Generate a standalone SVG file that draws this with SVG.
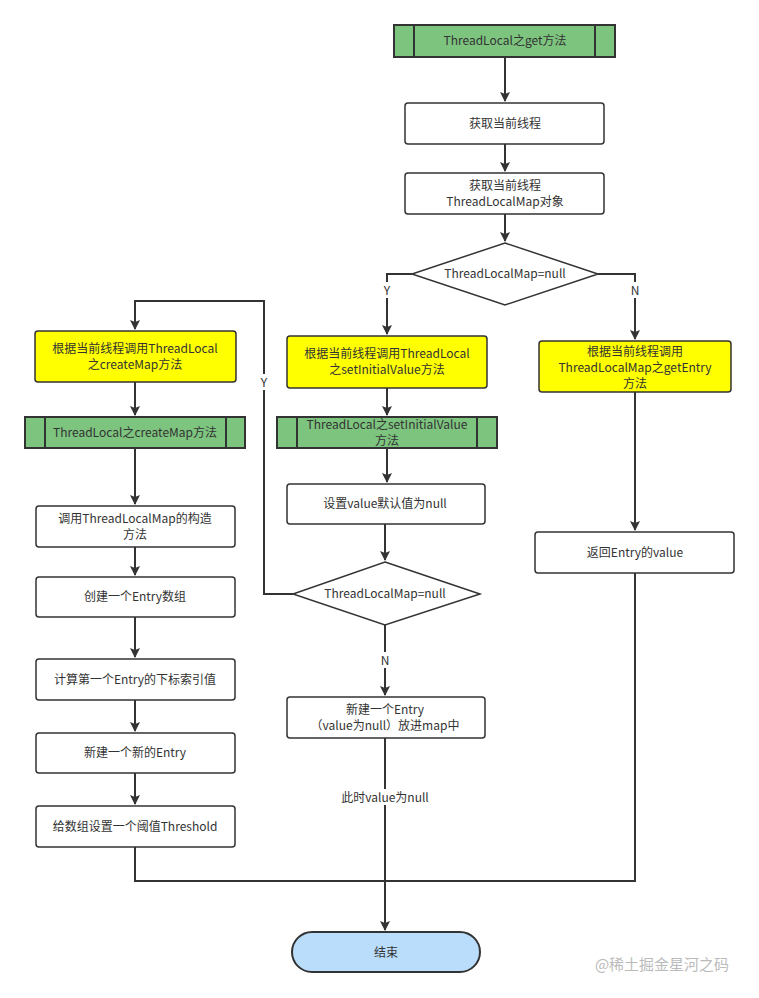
<svg xmlns="http://www.w3.org/2000/svg" width="759" height="998" viewBox="0 0 759 998">
<style>
text{font-family:"Noto Sans CJK SC","Liberation Sans",sans-serif;font-size:12px;fill:#333;text-anchor:middle}
.b{fill:#fff;stroke:#333;stroke-width:1.5}
.y{fill:#ffff00;stroke:#333;stroke-width:1.5}
.g{fill:#7dc47f;stroke:#333;stroke-width:2}
.l{fill:none;stroke:#333;stroke-width:2}
.lb{fill:#fff}
</style>
<defs><marker id="a" viewBox="0 0 10 10" refX="9" refY="5" markerWidth="5" markerHeight="5" orient="auto"><path d="M0,0L10,5L0,10L2,5z" fill="#333"/></marker></defs>
<rect width="759" height="998" fill="#fff"/>
<g id="connectors">
<path class="l" d="M505,57V101" marker-end="url(#a)"/>
<path class="l" d="M505,144V171" marker-end="url(#a)"/>
<path class="l" d="M505,214V241" marker-end="url(#a)"/>
<path class="l" d="M412,274H387V334" marker-end="url(#a)"/>
<path class="l" d="M598,274H635V339" marker-end="url(#a)"/>
<path class="l" d="M387,388V415" marker-end="url(#a)"/>
<path class="l" d="M387,448V482" marker-end="url(#a)"/>
<path class="l" d="M385,524V560" marker-end="url(#a)"/>
<path class="l" d="M293,594H264V301H135V329" marker-end="url(#a)"/>
<path class="l" d="M385,625V695" marker-end="url(#a)"/>
<path class="l" d="M385,738V930" marker-end="url(#a)"/>
<path class="l" d="M135,382V415" marker-end="url(#a)"/>
<path class="l" d="M135,448V504" marker-end="url(#a)"/>
<path class="l" d="M135,547V575" marker-end="url(#a)"/>
<path class="l" d="M135,617V657" marker-end="url(#a)"/>
<path class="l" d="M135,700V731" marker-end="url(#a)"/>
<path class="l" d="M135,773V804" marker-end="url(#a)"/>
<path class="l" d="M635,392V530" marker-end="url(#a)"/>
<path class="l" d="M135,847V881H635V573"/>
<rect class="lb" x="381" y="282" width="12" height="16"/><text x="387" y="295">Y</text>
<rect class="lb" x="629" y="282" width="12" height="16"/><text x="635" y="295">N</text>
<rect class="lb" x="258" y="374" width="12" height="16"/><text x="264" y="387">Y</text>
<rect class="lb" x="379" y="652" width="12" height="16"/><text x="385" y="665">N</text>
<rect class="lb" x="338" y="789" width="94" height="16"/><text x="385" y="802">此时value为null</text>
</g>
<g id="n1"><rect class="g" x="394" y="25" width="221" height="32"/><path class="l" d="M414,25V57M595,25V57"/><text x="505" y="45">ThreadLocal之get方法</text></g>
<g id="n2"><rect class="b" x="405" y="103" width="199" height="41" rx="3"/><text x="505" y="128">获取当前线程</text></g>
<g id="n3"><rect class="b" x="405" y="173" width="199" height="41" rx="3"/><text x="505" y="190">获取当前线程</text><text x="505" y="206">ThreadLocalMap对象</text></g>
<g id="n4"><path class="b" d="M505,243L598,274L505,305L412,274Z"/><text x="505" y="278">ThreadLocalMap=null</text></g>
<g id="n5"><rect class="y" x="287" y="336" width="200" height="52" rx="3"/><text x="387" y="358">根据当前线程调用ThreadLocal</text><text x="387" y="374">之setInitialValue方法</text></g>
<g id="n6"><rect class="g" x="277" y="417" width="220" height="31"/><path class="l" d="M297,417V448M477,417V448"/><text x="387" y="429">ThreadLocal之setInitialValue</text><text x="387" y="445">方法</text></g>
<g id="n7"><rect class="b" x="287" y="484" width="198" height="40" rx="3"/><text x="385" y="508">设置value默认值为null</text></g>
<g id="n8"><path class="b" d="M385,562L480,594L385,625L293,594Z"/><text x="385" y="598">ThreadLocalMap=null</text></g>
<g id="n9"><rect class="b" x="287" y="697" width="198" height="41" rx="3"/><text x="385" y="714">新建一个Entry</text><text x="385" y="730">（value为null）放进map中</text></g>
<g id="n10"><rect class="y" x="35" y="331" width="201" height="51" rx="3"/><text x="135" y="353">根据当前线程调用ThreadLocal</text><text x="135" y="369">之createMap方法</text></g>
<g id="n11"><rect class="g" x="25" y="417" width="220" height="31"/><path class="l" d="M45,417V448M226,417V448"/><text x="135" y="437">ThreadLocal之createMap方法</text></g>
<g id="n12"><rect class="b" x="36" y="506" width="199" height="41" rx="3"/><text x="135" y="523">调用ThreadLocalMap的构造</text><text x="135" y="539">方法</text></g>
<g id="n13"><rect class="b" x="36" y="577" width="199" height="40" rx="3"/><text x="135" y="601">创建一个Entry数组</text></g>
<g id="n14"><rect class="b" x="36" y="659" width="199" height="41" rx="3"/><text x="135" y="684">计算第一个Entry的下标索引值</text></g>
<g id="n15"><rect class="b" x="36" y="733" width="199" height="40" rx="3"/><text x="135" y="757">新建一个新的Entry</text></g>
<g id="n16"><rect class="b" x="36" y="806" width="199" height="41" rx="3"/><text x="135" y="831">给数组设置一个阈值Threshold</text></g>
<g id="n17"><rect class="y" x="539" y="341" width="192" height="51" rx="3"/><text x="635" y="356">根据当前线程调用</text><text x="635" y="372">ThreadLocalMap之getEntry</text><text x="635" y="388">方法</text></g>
<g id="n18"><rect class="b" x="535" y="532" width="199" height="41" rx="3"/><text x="635" y="557">返回Entry的value</text></g>
<g id="n19"><rect x="292" y="932" width="188" height="40" rx="20" fill="#b9ddfb" stroke="#333" stroke-width="2"/><text x="386" y="957">结束</text></g>
<text x="662" y="970" style="font-size:15px;fill:#bbb">@稀土掘金星河之码</text>
</svg>
